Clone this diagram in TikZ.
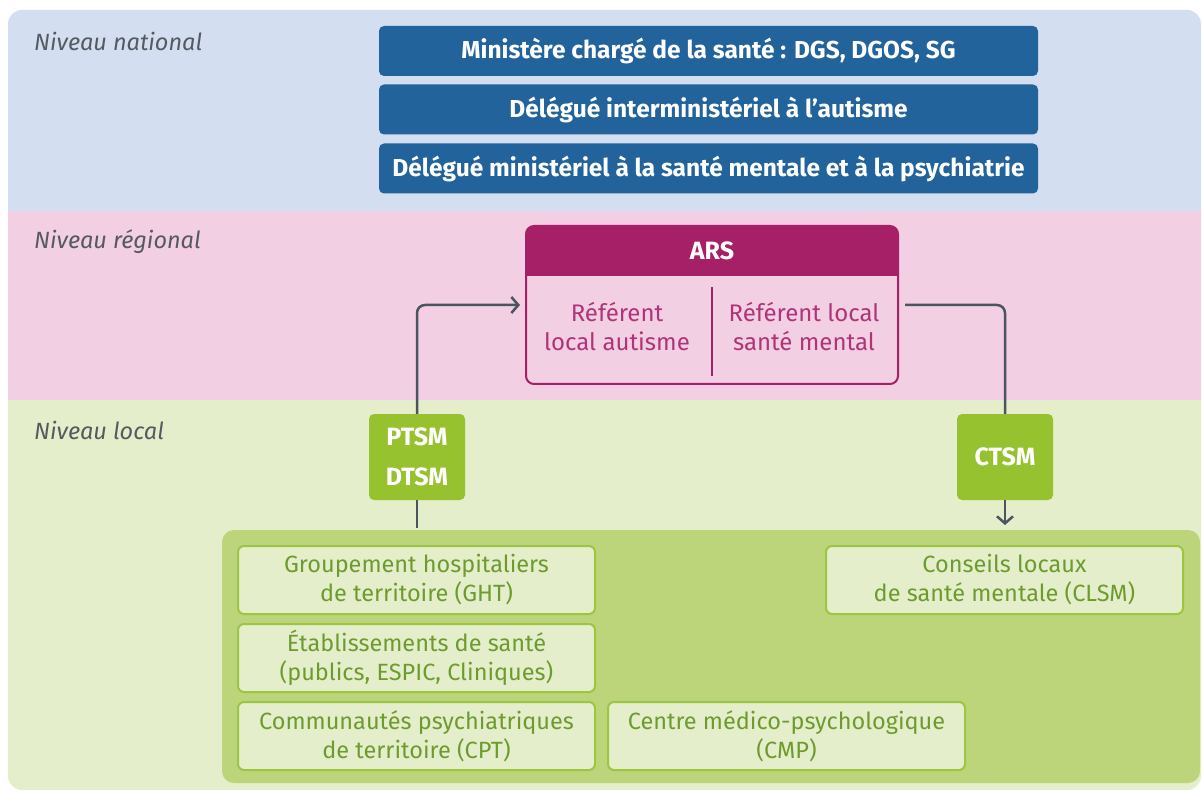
\documentclass[tikz,border=0pt]{standalone}
\usepackage{fontspec}
\setmainfont{Fira Sans}
\usetikzlibrary{arrows.meta,calc}
\definecolor{bandblue}{HTML}{D3DEF1}
\definecolor{bandpink}{HTML}{F2CFE3}
\definecolor{bandgreen}{HTML}{E4EECB}
\definecolor{boxblue}{HTML}{21639A}
\definecolor{arsmag}{HTML}{A62068}
\definecolor{arstext}{HTML}{B0347A}
\definecolor{tsmgreen}{HTML}{97C22F}
\definecolor{contgreen}{HTML}{BDD57A}
\definecolor{iboxline}{HTML}{9CC63F}
\definecolor{iboxtext}{HTML}{6E9B2E}
\definecolor{lvltext}{HTML}{555A60}
\definecolor{arrgray}{HTML}{4B5560}
\tikzset{
  natbox/.style={fill=boxblue, rounded corners=5pt, minimum width=659pt, minimum height=50pt,
    text=white, font=\fontsize{24.5}{28}\selectfont\bfseries, inner sep=0pt},
  tsmbox/.style={fill=tsmgreen, rounded corners=5pt, minimum width=96pt, minimum height=86pt,
    text=white, font=\fontsize{25}{40}\selectfont\bfseries, align=center, inner sep=0pt},
  ibox/.style={draw=iboxline, line width=2pt, fill=bandgreen, rounded corners=6pt,
    minimum width=357pt, minimum height=68pt, text=iboxtext,
    font=\fontsize{23.5}{29}\selectfont, align=center, inner sep=0pt},
  lvl/.style={anchor=west, text=lvltext, font=\fontsize{23.5}{28}\selectfont\itshape, inner sep=0pt},
  reftxt/.style={text=arstext, font=\fontsize{24}{29}\selectfont, align=center, inner sep=0pt},
  arr/.style={draw=arrgray, line width=2.5pt, rounded corners=8pt},
  tip/.style={-{Straight Barb[length=7pt,width=16pt]}}
}
\begin{document}
\begin{tikzpicture}[x=1pt,y=-1pt]
\useasboundingbox (0,0) rectangle (1202,791);
% background bands
\begin{scope}
\clip[rounded corners=14pt] (8,10) rectangle (1201,790);
\fill[bandblue] (0,0) rectangle (1202,211);
\fill[bandpink] (0,211) rectangle (1202,400);
\fill[bandgreen] (0,400) rectangle (1202,791);
\end{scope}
\node[lvl] (lnat) at (34,41) {Niveau national};
\node[lvl] (lreg) at (34,242) {Niveau régional};
\node[lvl] (lloc) at (34,430) {Niveau local};
% national boxes
\node[natbox] (n1) at (708.5,51) {Ministère chargé de la santé : DGS, DGOS, SG};
\node[natbox] (n2) at (708.5,109.5) {Délégué interministériel à l’autisme};
\node[natbox] (n3) at (708.5,168.5) {Délégué ministériel à la santé mentale et à la psychiatrie};
% ARS
\node[draw=arsmag, line width=2pt, fill=bandpink, rounded corners=8pt,
  minimum width=372pt, minimum height=158pt, inner sep=0pt] (ars) at (712,305) {};
\fill[arsmag] (526,276) [rounded corners=8pt] -- (526,226) -- (898,226) [sharp corners] -- (898,276) -- cycle;
\node[text=white, font=\fontsize{25}{28}\selectfont\bfseries, inner sep=0pt] (arst) at (712,251) {ARS};
\draw[arsmag, line width=2.5pt] (712,287) -- (712,376);
\node[reftxt] (refa) at (617,327) {Référent\\local autisme};
\node[reftxt] (refb) at (804,327) {Référent local\\santé mental};
% local container
\node[fill=contgreen, rounded corners=12pt, minimum width=978pt, minimum height=253pt, inner sep=0pt] (local) at (711,656.5) {};
% TSM boxes
\node[tsmbox] (ptsm) at (417,457) {PTSM\\DTSM};
\node[tsmbox] (ctsm) at (1005,457) {CTSM};
% inner boxes
\node[ibox] (ght) at (416.5,580) {Groupement hospitaliers\\de territoire (GHT)};
\node[ibox] (etab) at (416.5,658) {Établissements de santé\\(publics, ESPIC, Cliniques)};
\node[ibox] (cpt) at (416.5,736) {Communautés psychiatriques\\de territoire (CPT)};
\node[ibox] (cmp) at (786.5,736) {Centre médico-psychologique\\(CMP)};
\node[ibox] (clsm) at (1004.5,580) {Conseils locaux\\de santé mentale (CLSM)};
% connectors
\draw[arr,tip,shorten >=5pt] (ptsm.north) |- (ars.west);
\draw[arr,shorten <=6pt] (ars.east) -| (ctsm.north);
\coordinate (ctend) at (1005,525);
\draw[arr,tip] (ctsm.south) -- (ctend);
\coordinate (ptend) at (417,528);
\draw[arr] (ptsm.south) -- (ptend);
\end{tikzpicture}
\end{document}
